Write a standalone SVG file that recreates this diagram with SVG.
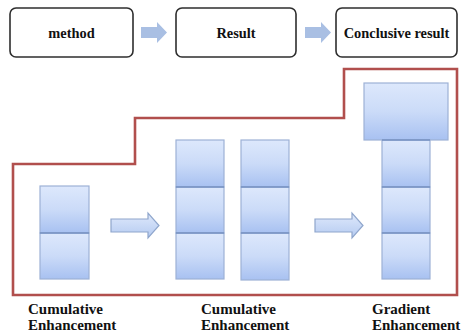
<svg xmlns="http://www.w3.org/2000/svg" width="462" height="334" viewBox="0 0 462 334">
  <defs>
    <linearGradient id="cellFill" x1="0" y1="0" x2="0" y2="1">
      <stop offset="0" stop-color="#dde8fc"/>
      <stop offset="0.5" stop-color="#cbdbf8"/>
      <stop offset="1" stop-color="#a8c1f1"/>
    </linearGradient>
    <linearGradient id="arrowFill" x1="0" y1="0" x2="0" y2="1">
      <stop offset="0" stop-color="#dfe9fb"/>
      <stop offset="1" stop-color="#b4caf1"/>
    </linearGradient>
  </defs>
  <style>
    .stage { fill: #ffffff; stroke: #2e2e2e; stroke-width: 1.6; }
    .stage-text { font-family: "Liberation Serif", "Times New Roman", serif; font-weight: bold; font-size: 14.4px; fill: #111; text-anchor: middle; }
    .flow { fill: #a9bfe3; }
    .cell { fill: url(#cellFill); stroke: #9db1d6; stroke-width: 1.2; }
    .divider { stroke: #7490c2; stroke-width: 1.4; }
    .step-arrow { fill: url(#arrowFill); stroke: #8fa6cc; stroke-width: 1.2; }
    .frame { fill: none; stroke: #b14f4d; stroke-width: 2.6; stroke-linejoin: miter; }
    .label { font-family: "Liberation Serif", "Times New Roman", serif; font-weight: bold; font-size: 15px; fill: #111; }
  </style>

  <!-- top row: stages -->
  <g id="method">
    <rect class="stage" x="10" y="8" width="123" height="49" rx="6"/>
    <text class="stage-text" x="71.5" y="38">method</text>
  </g>
  <g id="result">
    <rect class="stage" x="176" y="8" width="120" height="49" rx="6"/>
    <text class="stage-text" x="236" y="38">Result</text>
  </g>
  <g id="conclusive-result">
    <rect class="stage" x="336" y="8" width="121" height="49" rx="6"/>
    <text class="stage-text" x="396.5" y="38">Conclusive result</text>
  </g>

  <!-- stepped frame around the enhancement stacks -->
  <g id="frame">
    <polygon class="frame" points="13,164 135,164 135,118 344,118 344,69 457,69 457,295 13,295"/>
  </g>

  <!-- stacks -->
  <g id="stack-1">
    <rect class="cell" x="40" y="186" width="49" height="47"/>
    <rect class="cell" x="40" y="233" width="49" height="46"/>
    <line class="divider" x1="40" y1="233" x2="89" y2="233"/>
  </g>
  <g id="stack-2">
    <rect class="cell" x="176" y="140" width="48" height="47"/>
    <rect class="cell" x="176" y="187" width="48" height="46"/>
    <rect class="cell" x="176" y="233" width="48" height="46"/>
    <line class="divider" x1="176" y1="187" x2="224" y2="187"/>
    <line class="divider" x1="176" y1="233" x2="224" y2="233"/>
  </g>
  <g id="stack-3">
    <rect class="cell" x="241" y="140" width="48" height="47"/>
    <rect class="cell" x="241" y="187" width="48" height="46"/>
    <rect class="cell" x="241" y="233" width="48" height="47"/>
    <line class="divider" x1="241" y1="187" x2="289" y2="187"/>
    <line class="divider" x1="241" y1="233" x2="289" y2="233"/>
  </g>
  <g id="stack-4">
    <rect class="cell" x="364" y="83" width="84" height="57"/>
    <rect class="cell" x="382" y="140" width="48" height="47"/>
    <rect class="cell" x="382" y="187" width="48" height="46"/>
    <rect class="cell" x="382" y="233" width="48" height="46"/>
    <line class="divider" x1="382" y1="140" x2="430" y2="140"/>
    <line class="divider" x1="382" y1="187" x2="430" y2="187"/>
    <line class="divider" x1="382" y1="233" x2="430" y2="233"/>
  </g>

  <!-- labels -->
  <g id="label-1">
    <text class="label" x="28" y="314">Cumulative</text>
    <text class="label" x="28" y="330">Enhancement</text>
  </g>
  <g id="label-2">
    <text class="label" x="201" y="314">Cumulative</text>
    <text class="label" x="201" y="330">Enhancement</text>
  </g>
  <g id="label-3">
    <text class="label" x="372" y="314">Gradient</text>
    <text class="label" x="372" y="330">Enhancement</text>
  </g>

  <!-- connectors -->
  <g id="connectors">
    <polygon class="flow" points="141,27 157,27 157,22 167,32.5 157,43 157,38 141,38"/>
    <polygon class="flow" points="305,27 321,27 321,22 331,32.5 321,43 321,38 305,38"/>
    <polygon class="step-arrow" points="111,219 148,219 148,213 159,225.5 148,238 148,232 111,232"/>
    <polygon class="step-arrow" points="315,219 352,219 352,213 363,225.5 352,238 352,232 315,232"/>
  </g>
</svg>
